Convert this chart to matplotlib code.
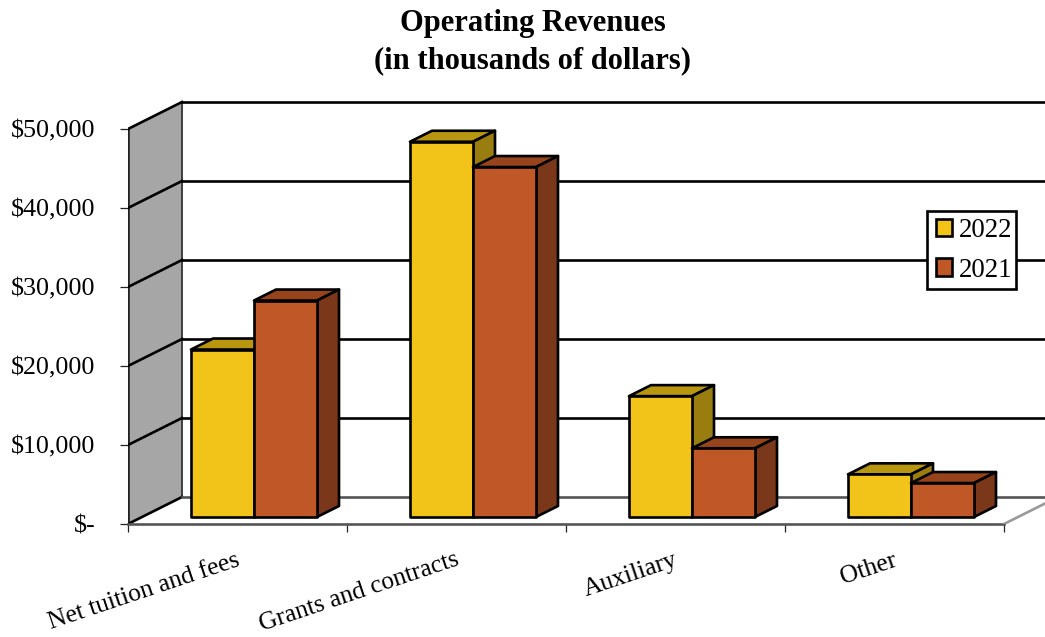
import matplotlib
matplotlib.use("Agg")
import matplotlib.pyplot as plt
from matplotlib.patches import Patch, Polygon, Rectangle

# Revenue by category, in thousands of dollars
categories = ["Net tuition and fees", "Grants and contracts", "Auxiliary", "Other"]
revenue_2022 = [21200, 47500, 15300, 5400]
revenue_2021 = [27400, 44300, 8700, 4300]
series_labels = ["2022", "2021"]
y_ticks = [0, 10000, 20000, 30000, 40000, 50000]
y_tick_labels = ["$-", "$10,000", "$20,000", "$30,000", "$40,000", "$50,000"]

YELLOW = ("#F2C318", "#B8960F", "#9A7D0F")   # front, top, side
ORANGE = ("#C05726", "#97431B", "#7B3719")
WALL = "#A6A6A6"

W, H = 1045, 637
LEFT, BASE = 128, 524          # pixel position of the plot origin
CAT_PX = 219                   # pixels per category
VAL_PX = 79 / 10000            # pixels per dollar unit
DEPTH_X, DEPTH_Y = 54, 27      # oblique offset of the back wall, pixels

BAR_W = 63 / CAT_PX
BAR_GAP = 49 / CAT_PX          # floor gap in front of the first bar of a group
BAR_Z = 7 / DEPTH_Y            # depth at which the bar fronts stand
BAR_D = 11 / DEPTH_Y           # depth of a bar
LINE = 1.9

plt.rcParams["font.family"] = ["Liberation Serif", "DejaVu Serif"]

fig = plt.figure(figsize=(W / 100, H / 100), dpi=100)
ax = fig.add_axes([LEFT / W, 1 - BASE / H, (W - LEFT) / W, BASE / H])
x_max = (W - LEFT) / CAT_PX
y_max = BASE / VAL_PX
ax.set_xlim(0, x_max)
ax.set_ylim(0, y_max)
ax.patch.set_visible(False)
for spine in ax.spines.values():
    spine.set_visible(False)


def oblique(x, y, z=0.0):
    """Project a point at category x, value y and depth z (0 front, 1 back)."""
    return (x + z * DEPTH_X / CAT_PX, y + z * DEPTH_Y / VAL_PX)


def face(points, color, z=2):
    ax.add_patch(Polygon(points, closed=True, facecolor=color, edgecolor="black",
                         linewidth=LINE, joinstyle="round", zorder=z, clip_on=False))


def draw_bar(x0, value, colors, z):
    x1 = x0 + BAR_W
    zf, zb = BAR_Z, BAR_Z + BAR_D
    face([oblique(x0, value, zf), oblique(x1, value, zf),
          oblique(x1, value, zb), oblique(x0, value, zb)], colors[1], z)
    face([oblique(x1, 0, zf), oblique(x1, 0, zb),
          oblique(x1, value, zb), oblique(x1, value, zf)], colors[2], z)
    face([oblique(x0, 0, zf), oblique(x1, 0, zf),
          oblique(x1, value, zf), oblique(x0, value, zf)], colors[0], z)


# Side wall
top = y_ticks[-1]
ax.add_patch(Polygon([oblique(0, 0), oblique(0, top), oblique(0, top, 1), oblique(0, 0, 1)],
                     closed=True, facecolor=WALL, edgecolor="none", zorder=1))
ax.plot(*zip(oblique(0, 0), oblique(0, top)), color="#222222", lw=LINE, zorder=1.5)
ax.plot(*zip(oblique(0, 0, 1), oblique(0, top, 1)), color="#333333", lw=1.3, zorder=1.5)

# Gridlines run along the side wall, then across the back wall
for tick in y_ticks:
    ax.plot(*zip(oblique(0, tick), oblique(0, tick, 1)), color="black", lw=LINE, zorder=1.6)
    shade = "#555555" if tick == 0 else "black"
    ax.plot(*zip(oblique(0, tick, 1), (x_max, oblique(0, tick, 1)[1])),
            color=shade, lw=LINE, zorder=1.6)

# Floor edges
n = len(categories)
ax.plot(*zip(oblique(0, 0), oblique(n, 0)), color="#555555", lw=LINE, zorder=1.6, clip_on=False)
ax.plot(*zip(oblique(n, 0), oblique(n, 0, 1)), color="#999999", lw=LINE, zorder=1.6)

# Bars, 2022 first so that the 2021 bar overlaps its side face
for i in range(n):
    x0 = i + BAR_GAP
    draw_bar(x0, revenue_2022[i], YELLOW, 2 + i * 0.1)
    draw_bar(x0 + BAR_W, revenue_2021[i], ORANGE, 2.05 + i * 0.1)

# Axes ticks and labels
ax.set_yticks(y_ticks, y_tick_labels, fontsize=18.7)
ax.tick_params(axis="y", length=5.8, width=0.9, pad=17.5, color="#222222")
ax.set_xticks(range(n + 1), [""] * (n + 1))
ax.tick_params(axis="x", which="major", length=5.8, width=0.9, color="#222222")
ax.set_xticks([i + 0.5 - 2 / CAT_PX for i in range(n)], categories, minor=True, fontsize=18.4,
              rotation=18.5, ha="right", rotation_mode="anchor")
ax.tick_params(axis="x", which="minor", length=0, pad=18)

# Legend: the frame is a separate box so the padding can differ left and right
ax.add_patch(Rectangle(((927 - LEFT) / (W - LEFT), 1 - 289 / BASE), 89 / (W - LEFT), 78 / BASE,
                       transform=ax.transAxes, facecolor="white", edgecolor="black",
                       linewidth=LINE, zorder=4.9))
handles = [Patch(facecolor=YELLOW[0], edgecolor="black", linewidth=LINE),
           Patch(facecolor=ORANGE[0], edgecolor="black", linewidth=LINE)]
legend = ax.legend(handles, series_labels, loc="upper left",
                   bbox_to_anchor=((936 - LEFT) / (W - LEFT), 1 - 218 / BASE),
                   borderaxespad=0, fontsize=19.4, frameon=False, handlelength=0.6,
                   handleheight=0.6, handletextpad=0.26, labelspacing=0.54, borderpad=0)
legend.set_zorder(5)

fig.suptitle("Operating Revenues\n(in thousands of dollars)", x=533 / W, y=1 - 9 / H,
             va="top", ha="center", fontsize=22, fontweight="bold", linespacing=1.39)

fig.savefig("out.png", dpi=100)
